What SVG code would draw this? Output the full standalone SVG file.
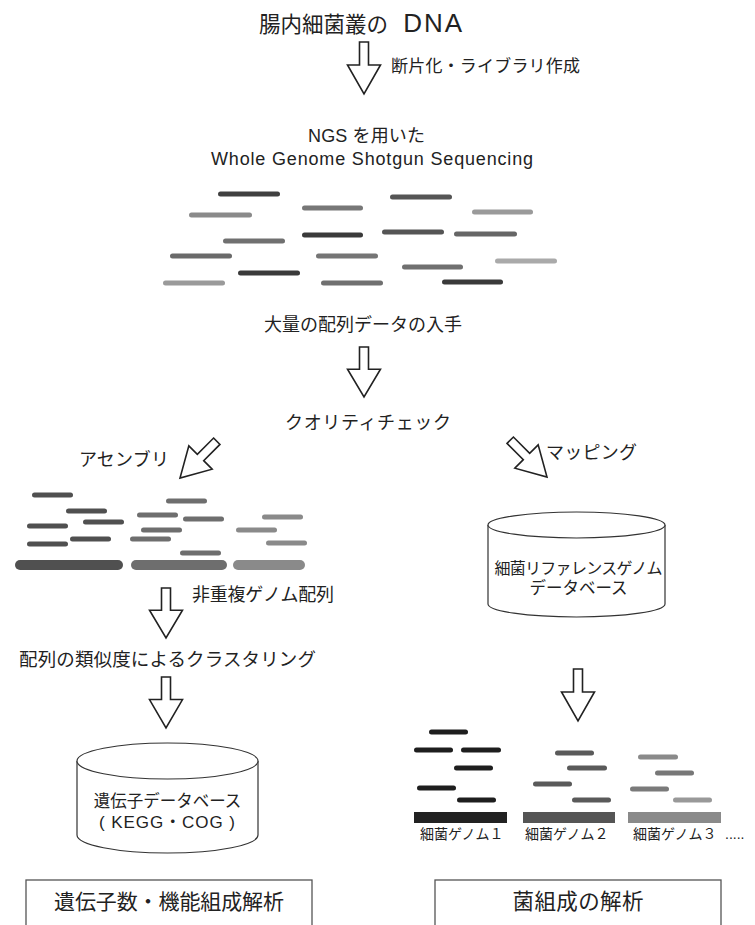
<svg xmlns="http://www.w3.org/2000/svg" xmlns:xlink="http://www.w3.org/1999/xlink" width="755" height="925" viewBox="0 0 755 925">
<style>
.t { font-family: "Liberation Sans", "Noto Sans CJK JP", sans-serif; fill: #222; }
.rd { stroke-width: 5; stroke-linecap: round; fill: none; }
.ct { stroke-width: 10; stroke-linecap: round; fill: none; }
.ar { fill: #fff; stroke: #222; stroke-width: 1.6; stroke-linejoin: miter; }
.cyl { fill: #fff; stroke: #333; stroke-width: 1.2; }
.box { fill: #fff; stroke: #555; stroke-width: 1.3; }
</style>
<defs>
<path id="barrow" d="M-4.5,-52 H4.5 V-29 H16.5 L0,0 L-16.5,-29 H-4.5 Z"/>
</defs>
<rect width="755" height="925" fill="#fff"/>

<g id="connectors">
<use href="#barrow" class="ar" transform="translate(364,94)"/>
<use href="#barrow" class="ar" transform="translate(364,397) scale(1,0.96)"/>
<use href="#barrow" class="ar" transform="translate(180,478) rotate(45)"/>
<use href="#barrow" class="ar" transform="translate(547,477) rotate(-45)"/>
<use href="#barrow" class="ar" transform="translate(166,638) scale(1,0.96)"/>
<use href="#barrow" class="ar" transform="translate(166,728) scale(1,0.98)"/>
<use href="#barrow" class="ar" transform="translate(578,721)"/>
</g>

<g id="title">
<text class="t" x="259" y="31.5" font-size="21.5">腸内細菌叢の<tspan dx="6" font-size="26" letter-spacing="2"> DNA</tspan></text>
</g>
<g id="label-fragment">
<text class="t" x="391" y="72" font-size="17" textLength="189">断片化・ライブラリ作成</text>
</g>
<g id="label-ngs">
<text class="t" x="308" y="142" font-size="18" textLength="117">NGS を用いた</text>
<text class="t" x="211" y="165" font-size="18" textLength="322" lengthAdjust="spacing">Whole Genome Shotgun Sequencing</text>
</g>

<g id="reads">
<line class="rd" x1="220.5" y1="194" x2="277.5" y2="194" stroke="#404040"/>
<line class="rd" x1="191.5" y1="215" x2="249.5" y2="215" stroke="#8a8a8a"/>
<line class="rd" x1="304.5" y1="208" x2="360.5" y2="208" stroke="#777"/>
<line class="rd" x1="304.5" y1="235" x2="360.5" y2="235" stroke="#3a3a3a"/>
<line class="rd" x1="225.5" y1="241" x2="282.5" y2="241" stroke="#707070"/>
<line class="rd" x1="172.5" y1="256" x2="229.5" y2="256" stroke="#6a6a6a"/>
<line class="rd" x1="318.5" y1="256" x2="375.5" y2="256" stroke="#757575"/>
<line class="rd" x1="240.5" y1="273" x2="297.5" y2="273" stroke="#3a3a3a"/>
<line class="rd" x1="165.5" y1="283" x2="222.5" y2="283" stroke="#9a9a9a"/>
<line class="rd" x1="323.5" y1="283" x2="380.5" y2="283" stroke="#707070"/>
<line class="rd" x1="392.5" y1="197" x2="449.5" y2="197" stroke="#555"/>
<line class="rd" x1="474.5" y1="212" x2="530.5" y2="212" stroke="#9a9a9a"/>
<line class="rd" x1="384.5" y1="232" x2="441.5" y2="232" stroke="#555"/>
<line class="rd" x1="456.5" y1="234" x2="514.5" y2="234" stroke="#666"/>
<line class="rd" x1="497.5" y1="261" x2="554.5" y2="261" stroke="#aaa"/>
<line class="rd" x1="404.5" y1="267" x2="460.5" y2="267" stroke="#707070"/>
<line class="rd" x1="444.5" y1="282" x2="500.5" y2="282" stroke="#3a3a3a"/>
</g>

<g id="label-data">
<text class="t" x="264" y="331" font-size="18" textLength="198">大量の配列データの入手</text>
</g>
<g id="label-qc">
<text class="t" x="285" y="429" font-size="18" textLength="166">クオリティチェック</text>
</g>
<g id="label-assembly">
<text class="t" x="79" y="466" font-size="18" textLength="90">アセンブリ</text>
</g>
<g id="label-mapping">
<text class="t" x="546" y="459" font-size="18" textLength="91">マッピング</text>
</g>

<g id="assembly">
<g stroke="#505050">
<line class="rd" x1="34.5" y1="495" x2="70.5" y2="495"/>
<line class="rd" x1="68.5" y1="511" x2="104.5" y2="511"/>
<line class="rd" x1="85.5" y1="522" x2="121.5" y2="522"/>
<line class="rd" x1="29.5" y1="526" x2="65.5" y2="526"/>
<line class="rd" x1="29.5" y1="544" x2="65.5" y2="544"/>
<line class="rd" x1="72.5" y1="539" x2="108.5" y2="539"/>
<line class="ct" x1="20" y1="565" x2="118" y2="565"/>
</g>
<g stroke="#6e6e6e">
<line class="rd" x1="168.5" y1="501" x2="204.5" y2="501"/>
<line class="rd" x1="139.5" y1="515" x2="175.5" y2="515"/>
<line class="rd" x1="185.5" y1="519" x2="221.5" y2="519"/>
<line class="rd" x1="143.5" y1="530" x2="179.5" y2="530"/>
<line class="rd" x1="132.5" y1="539" x2="168.5" y2="539"/>
<line class="rd" x1="182.5" y1="553" x2="218.5" y2="553"/>
<line class="ct" x1="136" y1="565" x2="222" y2="565"/>
</g>
<g stroke="#8a8a8a">
<line class="rd" x1="264.5" y1="517" x2="300.5" y2="517"/>
<line class="rd" x1="238.5" y1="530" x2="274.5" y2="530"/>
<line class="rd" x1="268.5" y1="543" x2="304.5" y2="543"/>
<line class="ct" x1="238" y1="565" x2="300" y2="565"/>
</g>
</g>

<g id="label-nonredundant">
<text class="t" x="192" y="601" font-size="18" textLength="142">非重複ゲノム配列</text>
</g>
<g id="label-clustering">
<text class="t" x="19" y="666" font-size="18.5" textLength="297">配列の類似度によるクラスタリング</text>
</g>

<g id="gene-db">
<path class="cyl" d="M77,761 V835 A90.5,18 0 0 0 258,835 V761"/>
<ellipse class="cyl" cx="167.5" cy="761" rx="90.5" ry="18"/>
<text class="t" x="167.5" y="807" font-size="16.5" text-anchor="middle">遺伝子データベース</text>
<text class="t" x="167" y="828" font-size="17" text-anchor="middle" textLength="136">( KEGG・COG )</text>
</g>

<g id="ref-db">
<path class="cyl" d="M488,525 V604 A88.5,13 0 0 0 665,604 V525"/>
<ellipse class="cyl" cx="576.5" cy="525" rx="88.5" ry="13"/>
<text class="t" x="578.5" y="574" font-size="16" text-anchor="middle" textLength="168">細菌リファレンスゲノム</text>
<text class="t" x="578.5" y="594" font-size="16.5" text-anchor="middle">データベース</text>
</g>

<g id="genomes">
<g stroke="#1e1e1e">
<line class="rd" x1="431.5" y1="732" x2="465.5" y2="732"/>
<line class="rd" x1="416.5" y1="750" x2="450.5" y2="750"/>
<line class="rd" x1="463.5" y1="750" x2="498.5" y2="750"/>
<line class="rd" x1="456.5" y1="768" x2="490.5" y2="768"/>
<line class="rd" x1="419.5" y1="788" x2="453.5" y2="788"/>
<line class="rd" x1="459.5" y1="800" x2="493.5" y2="800"/>
</g>
<rect x="414" y="812" width="93" height="11" fill="#222"/>
<g stroke="#5a5a5a">
<line class="rd" x1="557.5" y1="753" x2="591.5" y2="753"/>
<line class="rd" x1="569.5" y1="768" x2="604.5" y2="768"/>
<line class="rd" x1="535.5" y1="784" x2="569.5" y2="784"/>
<line class="rd" x1="574.5" y1="800" x2="608.5" y2="800"/>
</g>
<rect x="523" y="812" width="92" height="11" fill="#555"/>
<line class="rd" x1="640.5" y1="757" x2="675.5" y2="757" stroke="#8a8a8a"/>
<line class="rd" x1="657.5" y1="773" x2="691.5" y2="773" stroke="#777"/>
<line class="rd" x1="632.5" y1="789" x2="666.5" y2="789" stroke="#7a7a7a"/>
<line class="rd" x1="675.5" y1="800" x2="709.5" y2="800" stroke="#999"/>
<rect x="628" y="812" width="93" height="11" fill="#8a8a8a"/>
<text class="t" x="420" y="839" font-size="14">細菌ゲノム１</text>
<text class="t" x="525" y="839" font-size="14">細菌ゲノム２</text>
<text class="t" x="633" y="839" font-size="14">細菌ゲノム３</text>
<text class="t" x="725" y="839" font-size="14">.....</text>
</g>

<g id="box-function">
<rect class="box" x="26" y="880" width="286" height="60"/>
<text class="t" x="169" y="909" font-size="21" text-anchor="middle" textLength="230">遺伝子数・機能組成解析</text>
</g>
<g id="box-composition">
<rect class="box" x="435" y="880" width="286" height="60"/>
<text class="t" x="578" y="909" font-size="21.5" text-anchor="middle" textLength="131">菌組成の解析</text>
</g>
</svg>
